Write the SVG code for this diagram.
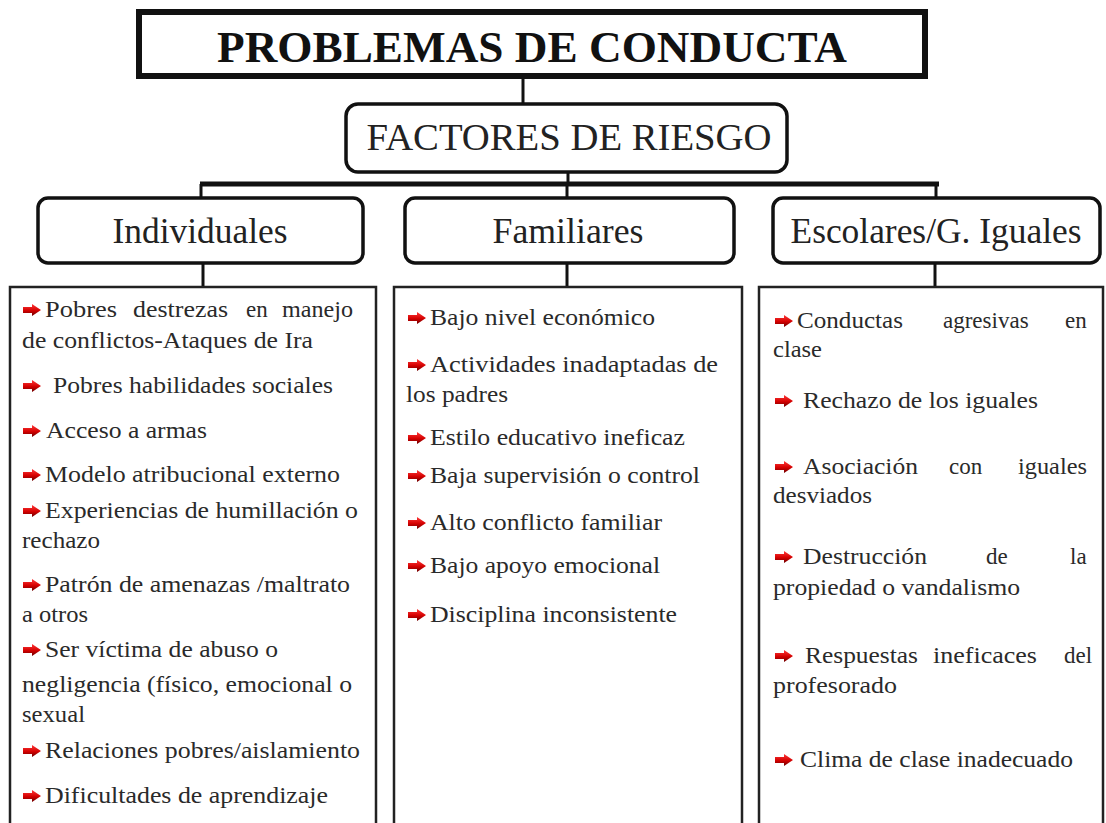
<svg xmlns="http://www.w3.org/2000/svg" xmlns:xlink="http://www.w3.org/1999/xlink" width="1106" height="823" viewBox="0 0 1106 823">
<defs>
<linearGradient id="rg" x1="0" y1="0" x2="0" y2="1">
<stop offset="0" stop-color="#ff3a3a"/>
<stop offset="0.55" stop-color="#d40000"/>
<stop offset="1" stop-color="#6a0000"/>
</linearGradient>
<path id="arr" d="M0,-3 H9 V-6 L18,0 L9,6 V3 H0 Z" fill="url(#rg)"/>
</defs>
<style>
text{font-family:'Liberation Serif','DejaVu Serif','Times New Roman',serif}
.title{font-weight:bold;font-size:45px;fill:#111;text-anchor:middle}
.hdr{font-size:36px;fill:#222;text-anchor:middle}
.fr{font-size:38px;fill:#222;text-anchor:middle}
.it{font-size:23px;fill:#2a2a2a}
.rbox{fill:#fff;stroke:#111;stroke-width:3.5}
.lbox{fill:#fff;stroke:#222;stroke-width:2.5}
.con{stroke:#111;stroke-width:3;fill:none}
</style>
<rect width="1106" height="823" fill="#fff"/>

<g id="connectors">
<line class="con" x1="523" y1="78" x2="523" y2="105"/>
<line class="con" x1="568" y1="172" x2="568" y2="184"/>
<line x1="200" y1="184" x2="939" y2="184" stroke="#111" stroke-width="5"/>
<line class="con" x1="201" y1="184" x2="201" y2="198"/>
<line class="con" x1="567" y1="184" x2="567" y2="198"/>
<line class="con" x1="936" y1="184" x2="936" y2="198"/>
<line class="con" x1="203" y1="263" x2="203" y2="287"/>
<line class="con" x1="567" y1="263" x2="567" y2="287"/>
<line class="con" x1="935" y1="263" x2="935" y2="287"/>
</g>

<g id="title">
<rect x="139" y="12" width="786" height="64" fill="#fff" stroke="#111" stroke-width="6"/>
<text class="title" x="532" y="62" textLength="630" lengthAdjust="spacingAndGlyphs">PROBLEMAS DE CONDUCTA</text>
</g>

<g id="factores">
<rect class="rbox" x="346" y="104" width="441" height="68" rx="12"/>
<text class="fr" x="569" y="150" textLength="405" lengthAdjust="spacingAndGlyphs">FACTORES DE RIESGO</text>
</g>

<g id="h-individuales">
<rect class="rbox" x="38" y="198" width="325" height="65" rx="10"/>
<text class="hdr" x="200" y="243" textLength="175" lengthAdjust="spacingAndGlyphs">Individuales</text>
</g>
<g id="h-familiares">
<rect class="rbox" x="405" y="198" width="329" height="65" rx="10"/>
<text class="hdr" x="568" y="243" textLength="151" lengthAdjust="spacingAndGlyphs">Familiares</text>
</g>
<g id="h-escolares">
<rect class="rbox" x="773" y="198" width="327" height="65" rx="10"/>
<text class="hdr" x="936" y="243" textLength="291" lengthAdjust="spacingAndGlyphs">Escolares/G. Iguales</text>
</g>

<g id="l-individuales">
<rect class="lbox" x="10" y="287" width="366" height="560"/>
<use xlink:href="#arr" x="23" y="310"/>
<text class="it" x="45" y="317" textLength="72" lengthAdjust="spacingAndGlyphs">Pobres</text>
<text class="it" x="133" y="317" textLength="95" lengthAdjust="spacingAndGlyphs">destrezas</text>
<text class="it" x="246" y="317">en</text>
<text class="it" x="282" y="317" textLength="71" lengthAdjust="spacingAndGlyphs">manejo</text>
<text class="it" x="22" y="348" textLength="291" lengthAdjust="spacingAndGlyphs">de conflictos-Ataques de Ira</text>
<use xlink:href="#arr" x="23" y="386"/>
<text class="it" x="53" y="393" textLength="280" lengthAdjust="spacingAndGlyphs">Pobres habilidades sociales</text>
<use xlink:href="#arr" x="23" y="431"/>
<text class="it" x="46" y="438" textLength="161" lengthAdjust="spacingAndGlyphs">Acceso a armas</text>
<use xlink:href="#arr" x="23" y="475"/>
<text class="it" x="45" y="482" textLength="295" lengthAdjust="spacingAndGlyphs">Modelo atribucional externo</text>
<use xlink:href="#arr" x="23" y="511"/>
<text class="it" x="45" y="518" textLength="313" lengthAdjust="spacingAndGlyphs">Experiencias de humillación o</text>
<text class="it" x="22" y="548" textLength="78" lengthAdjust="spacingAndGlyphs">rechazo</text>
<use xlink:href="#arr" x="23" y="585"/>
<text class="it" x="45" y="592" textLength="305" lengthAdjust="spacingAndGlyphs">Patrón de amenazas /maltrato</text>
<text class="it" x="22" y="622" textLength="66" lengthAdjust="spacingAndGlyphs">a otros</text>
<use xlink:href="#arr" x="23" y="650"/>
<text class="it" x="45" y="657" textLength="233" lengthAdjust="spacingAndGlyphs">Ser víctima de abuso o</text>
<text class="it" x="22" y="692" textLength="330" lengthAdjust="spacingAndGlyphs">negligencia (físico, emocional o</text>
<text class="it" x="22" y="722" textLength="63" lengthAdjust="spacingAndGlyphs">sexual</text>
<use xlink:href="#arr" x="23" y="751"/>
<text class="it" x="45" y="758" textLength="315" lengthAdjust="spacingAndGlyphs">Relaciones pobres/aislamiento</text>
<use xlink:href="#arr" x="23" y="796"/>
<text class="it" x="45" y="803" textLength="283" lengthAdjust="spacingAndGlyphs">Dificultades de aprendizaje</text>
</g>

<g id="l-familiares">
<rect class="lbox" x="394" y="287" width="348" height="560"/>
<use xlink:href="#arr" x="408" y="318"/>
<text class="it" x="430" y="325" textLength="225" lengthAdjust="spacingAndGlyphs">Bajo nivel económico</text>
<use xlink:href="#arr" x="408" y="365"/>
<text class="it" x="430" y="372" textLength="288" lengthAdjust="spacingAndGlyphs">Actividades inadaptadas de</text>
<text class="it" x="406" y="402" textLength="102" lengthAdjust="spacingAndGlyphs">los padres</text>
<use xlink:href="#arr" x="408" y="438"/>
<text class="it" x="430" y="445" textLength="255" lengthAdjust="spacingAndGlyphs">Estilo educativo ineficaz</text>
<use xlink:href="#arr" x="408" y="476"/>
<text class="it" x="430" y="483" textLength="270" lengthAdjust="spacingAndGlyphs">Baja supervisión o control</text>
<use xlink:href="#arr" x="408" y="523"/>
<text class="it" x="430" y="530" textLength="232" lengthAdjust="spacingAndGlyphs">Alto conflicto familiar</text>
<use xlink:href="#arr" x="408" y="566"/>
<text class="it" x="430" y="573" textLength="230" lengthAdjust="spacingAndGlyphs">Bajo apoyo emocional</text>
<use xlink:href="#arr" x="408" y="615"/>
<text class="it" x="430" y="622" textLength="247" lengthAdjust="spacingAndGlyphs">Disciplina inconsistente</text>
</g>

<g id="l-escolares">
<rect class="lbox" x="759" y="287" width="344" height="560"/>
<use xlink:href="#arr" x="775" y="321"/>
<text class="it" x="797" y="328" textLength="106" lengthAdjust="spacingAndGlyphs">Conductas</text>
<text class="it" x="943" y="328">agresivas</text>
<text class="it" x="1065" y="328">en</text>
<text class="it" x="773" y="357" textLength="49" lengthAdjust="spacingAndGlyphs">clase</text>
<use xlink:href="#arr" x="775" y="401"/>
<text class="it" x="803" y="408" textLength="235" lengthAdjust="spacingAndGlyphs">Rechazo de los iguales</text>
<use xlink:href="#arr" x="775" y="467"/>
<text class="it" x="803" y="474" textLength="115" lengthAdjust="spacingAndGlyphs">Asociación</text>
<text class="it" x="949" y="474">con</text>
<text class="it" x="1018" y="474" textLength="69" lengthAdjust="spacingAndGlyphs">iguales</text>
<text class="it" x="773" y="503" textLength="99" lengthAdjust="spacingAndGlyphs">desviados</text>
<use xlink:href="#arr" x="775" y="557"/>
<text class="it" x="803" y="564" textLength="124" lengthAdjust="spacingAndGlyphs">Destrucción</text>
<text class="it" x="986" y="564">de</text>
<text class="it" x="1070" y="564">la</text>
<text class="it" x="773" y="595" textLength="247" lengthAdjust="spacingAndGlyphs">propiedad o vandalismo</text>
<use xlink:href="#arr" x="775" y="656"/>
<text class="it" x="805" y="663" textLength="113" lengthAdjust="spacingAndGlyphs">Respuestas</text>
<text class="it" x="933" y="663" textLength="104" lengthAdjust="spacingAndGlyphs">ineficaces</text>
<text class="it" x="1064" y="663">del</text>
<text class="it" x="773" y="693" textLength="124" lengthAdjust="spacingAndGlyphs">profesorado</text>
<use xlink:href="#arr" x="775" y="760"/>
<text class="it" x="800" y="767" textLength="273" lengthAdjust="spacingAndGlyphs">Clima de clase inadecuado</text>
</g>
</svg>
